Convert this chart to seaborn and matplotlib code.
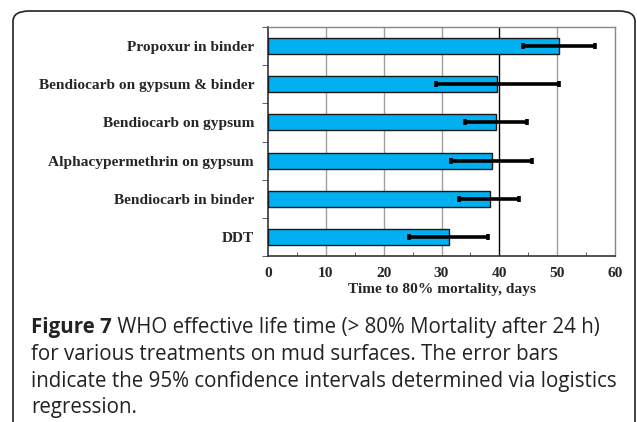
import matplotlib
matplotlib.use("Agg")
import matplotlib.pyplot as plt
import seaborn as sns
import pandas as pd
import numpy as np
from matplotlib.patches import FancyBboxPatch
from matplotlib.ticker import MultipleLocator

treatments = ["Propoxur in binder", "Bendiocarb on gypsum & binder", "Bendiocarb on gypsum",
              "Alphacypermethrin on gypsum", "Bendiocarb in binder", "DDT"]
days = [50.3, 39.6, 39.5, 38.7, 38.4, 31.3]
ci_low = [44.1, 29.0, 34.1, 31.7, 33.1, 24.4]
ci_high = [56.6, 50.4, 44.7, 45.7, 43.4, 38.1]

df = pd.DataFrame({"treatment": treatments, "days": days})

sns.set_style("white")
W, H = 637, 422
fig = plt.figure(figsize=(W/100, H/100), dpi=100)
ax = fig.add_axes([268/W, 1-256/H, (615-268)/W, (256-27)/H])

sns.barplot(data=df, x="days", y="treatment", order=treatments, color="#00B0F0",
            edgecolor="#1a1a1a", linewidth=1.0, width=0.42, saturation=1, ax=ax, zorder=3)

ypos = np.arange(len(treatments))
xerr = [np.array(days) - np.array(ci_low), np.array(ci_high) - np.array(days)]
ax.errorbar(days, ypos, xerr=xerr, fmt="none", ecolor="black", elinewidth=2.6,
            capsize=2.5, capthick=2.6, zorder=4)

ax.set_xlim(0, 60)
ax.set_ylim(5.5, -0.5)
ax.xaxis.set_major_locator(MultipleLocator(10))
ax.xaxis.set_minor_locator(MultipleLocator(5))
ax.set_yticks(np.arange(-0.5, 6.0, 1.0), minor=True)
ax.tick_params(axis="y", which="major", length=0, pad=10)
ax.tick_params(axis="y", which="minor", length=4, direction="out", left=True, color="#444444")
ax.tick_params(axis="x", which="major", length=0, pad=8)
ax.tick_params(axis="x", which="minor", length=3, direction="in", bottom=True, color="#444444")

for v in range(10, 60, 10):
    ax.axvline(v, color="#000000" if v == 40 else "#a0a0a0", linewidth=1.0, zorder=1)

for s in ["left", "bottom"]:
    ax.spines[s].set_color("#333333")
    ax.spines[s].set_linewidth(1.2)
for s in ["top", "right"]:
    ax.spines[s].set_color("#888888")
    ax.spines[s].set_linewidth(1.0)

tfont = dict(family="Liberation Serif", weight="bold")
for lab in ax.get_yticklabels():
    lab.set_fontfamily("Liberation Serif"); lab.set_fontweight("bold"); lab.set_fontsize(11.1)
for lab in ax.get_xticklabels():
    lab.set_fontfamily("Liberation Serif"); lab.set_fontweight("bold"); lab.set_fontsize(11.1)
ax.set_ylabel("")
ax.set_xlabel("Time to 80% mortality, days", fontsize=11.1, labelpad=2, **tfont)

box = FancyBboxPatch((13/W, -0.2), (635-13)/W, (1 - 11/H) + 0.2,
                     boxstyle="round,pad=0,rounding_size=0.025", transform=fig.transFigure,
                     facecolor="none", edgecolor="#222222", linewidth=1.2, clip_on=False)
fig.patches.append(box)

cap_lines = [
    [("Figure 7", "bold"), (" WHO effective life time (> 80% Mortality after 24 h)", "normal")],
    [("for various treatments on mud surfaces. The error bars", "normal")],
    [("indicate the 95% confidence intervals determined via logistics", "normal")],
    [("regression.", "normal")],
]
ys = [327, 354, 381, 407]
fs = 14.8
cx = 31
for parts, y in zip(cap_lines, ys):
    if parts[0][1] == "bold":
        t = fig.text(cx/W, 1-y/H, parts[0][0], fontsize=fs, family="Open Sans",
                     weight="bold", va="center", ha="left", color="#222222")
        fig.canvas.draw()
        bb = t.get_window_extent()
        fig.text(bb.x1/W, 1-y/H, parts[1][0], fontsize=fs, family="Open Sans",
                 va="center", ha="left", color="#222222")
    else:
        fig.text(cx/W, 1-y/H, parts[0][0], fontsize=fs, family="Open Sans",
                 va="center", ha="left", color="#222222")

fig.savefig("out.png", dpi=100)
